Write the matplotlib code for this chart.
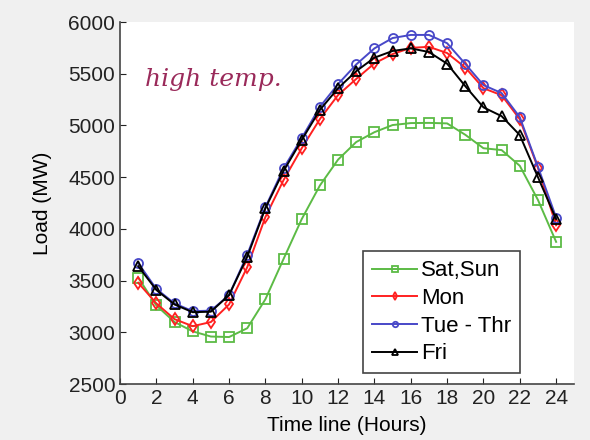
import matplotlib.pyplot as plt

plt.rcParams['font.family'] = ['Liberation Sans', 'DejaVu Sans']

hours = list(range(1, 25))

# load values (MW)
sat_sun = [3530, 3260, 3100, 3010, 2960, 2955, 3040, 3320, 3710, 4095, 4420, 4670,
           4840, 4935, 5004, 5023, 5025, 5020, 4910, 4780, 4762, 4610, 4280, 3875]
mon = [3480, 3280, 3128, 3060, 3100, 3270, 3630, 4115, 4472, 4780, 5062, 5294,
       5450, 5600, 5690, 5750, 5760, 5700, 5560, 5360, 5292, 5060, 4590, 4035]
tue_thr = [3670, 3420, 3280, 3205, 3210, 3360, 3750, 4210, 4585, 4878, 5180, 5400,
           5590, 5745, 5845, 5875, 5875, 5795, 5595, 5390, 5313, 5080, 4600, 4110]
fri = [3640, 3410, 3270, 3195, 3200, 3360, 3730, 4200, 4560, 4860, 5150, 5360,
       5525, 5655, 5720, 5745, 5710, 5597, 5380, 5175, 5090, 4907, 4500, 4095]

labels = ['Sat,Sun', 'Mon', 'Tue - Thr', 'Fri']
series = [sat_sun, mon, tue_thr, fri]
colors = ['#5cbb45', '#ff2020', '#4848c8', 'black']
markers = ['s', 'd', 'o', '^']

fig = plt.figure(figsize=(5.9, 4.4), dpi=100, facecolor='#f0f0f0')
ax = fig.add_axes([0.2034, 0.127, 0.77, 0.823])

for vals, lab, c, m in zip(series, labels, colors, markers):
    ax.plot(hours, vals, color=c, lw=1.4, marker=m, ms=6.5,
            markerfacecolor='none', markeredgewidth=1.3, label=lab)

ax.set_xlim(0, 25)
ax.set_ylim(2500, 6000)
ax.set_xticks(range(0, 25, 2))
ax.set_yticks(range(2500, 6001, 500))
ax.tick_params(direction='in', length=4, labelsize=15, colors='#222222')
ax.spines['top'].set_visible(False)
ax.spines['right'].set_visible(False)
for s in ['left', 'bottom']:
    ax.spines[s].set_color('#444444')
    ax.spines[s].set_linewidth(1.2)

ax.set_xlabel('Time line (Hours)', fontsize=15, labelpad=6)
ax.set_ylabel('Load (MW)', fontsize=15, labelpad=12)

ax.text(1.4, 5440, 'high temp.', fontsize=18, color='#9a2a5a',
        family='DejaVu Serif', style='italic', va='center')

leg = ax.legend(loc='lower right', bbox_to_anchor=(0.881, 0.03), borderaxespad=0,
                fontsize=16, fancybox=False, framealpha=1, edgecolor='#444444',
                handlelength=2.0, handletextpad=0.2, labelspacing=0.3,
                borderpad=0.4, markerscale=0.6)
leg.get_frame().set_linewidth(1.2)

fig.savefig('out.png', dpi=100, facecolor=fig.get_facecolor())
